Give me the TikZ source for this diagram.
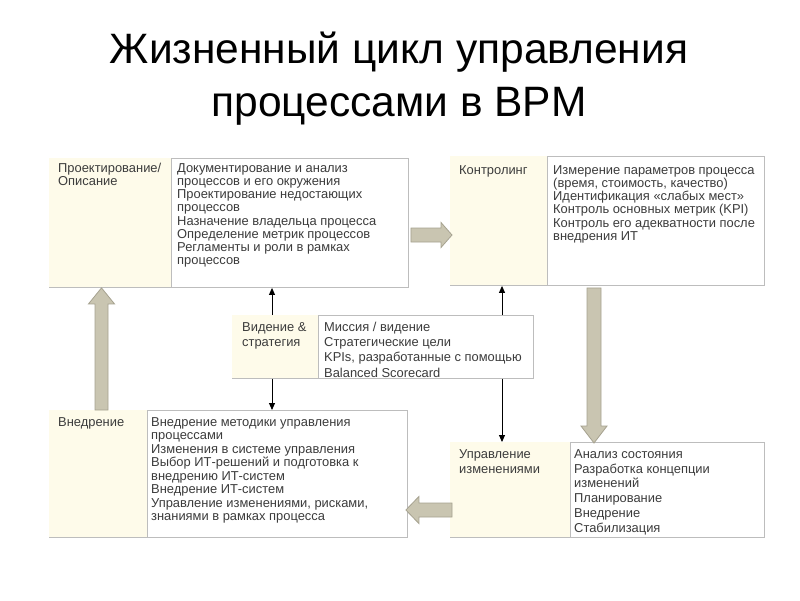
\documentclass[tikz,border=0pt]{standalone}
\usepackage{fontspec}
\setmainfont{Liberation Sans}
\usetikzlibrary{calc,arrows.meta}
\definecolor{boxline}{HTML}{BDBDBD}
\definecolor{cream}{HTML}{FEFBEA}
\definecolor{arrfill}{HTML}{C9C5B1}
\definecolor{arrline}{HTML}{A6A290}
\definecolor{txt}{HTML}{3C3C3C}
\newcommand\lnstrut{\rule{0pt}{10pt}}
\begin{document}
\begin{tikzpicture}[x=1pt,y=-1pt,
  frame/.style={draw=boxline, line width=0.9pt, fill=white, inner sep=0pt, anchor=north west},
  body/.style={anchor=north west, inner sep=0pt, align=left, text=txt, font=\fontsize{12.9}{13.2}\selectfont},
  bodyv/.style={body, font=\fontsize{12.9}{15.3}\selectfont},
  bodyw/.style={body, font=\fontsize{12.9}{13.5}\selectfont},
  bodyu/.style={body, font=\fontsize{12.9}{14.8}\selectfont},
  title/.style={anchor=base, inner sep=0pt, font=\fontsize{42.5}{52}\selectfont},
  blk/.style={draw=arrline, line width=0.8pt, fill=arrfill, line join=miter},
  thinarrow/.style={draw=black, line width=0.9pt, -{Triangle[length=7pt,width=6pt]}}
]
\useasboundingbox (0,0) rectangle (800,600);
\fill[white] (0,0) rectangle (800,600);

% title
\node[title] (t1) at (399,63) {Жизненный цикл управления};
\node[title] (t2) at (399,116) {процессами в BPM};

% frames
\node[frame, minimum width=359pt, minimum height=129pt] (p) at (49,158) {};
\node[frame, minimum width=314pt, minimum height=129pt] (c) at (450,156) {};
\node[frame, minimum width=301pt, minimum height=63pt] (v) at (232,315) {};
\node[frame, minimum width=358pt, minimum height=127pt] (w) at (49,410) {};
\node[frame, minimum width=314pt, minimum height=95pt] (u) at (450,442) {};

% divider positions
\coordinate (dp) at (171,0);
\coordinate (dc) at (547,0);
\coordinate (dv) at (318,0);
\coordinate (dw) at (147,0);
\coordinate (du) at (570,0);

\foreach \b/\d in {p/dp,c/dc,v/dv,w/dw,u/du}{
  \fill[cream] ([shift={(0.45,0.45)}]\b.north west) rectangle ([shift={(0,-0.45)}]\b.south -| \d);
  \draw[boxline, line width=0.9pt] (\b.north -| \d) -- (\b.south -| \d);
}

% texts
\node[body] (p1) at (58,162) {\lnstrut Проектирование/\\Описание};
\node[body] (p2) at (177,162) {\lnstrut Документирование и анализ\\процессов и его окружения\\Проектирование недостающих\\процессов\\Назначение владельца процесса\\Определение метрик процессов\\Регламенты и роли в рамках\\процессов};

\node[body] (c1) at (459,164) {\lnstrut Контролинг};
\node[body] (c2) at (553,164) {\lnstrut Измерение параметров процесса\\(время, стоимость, качество)\\Идентификация «слабых мест»\\Контроль основных метрик (KPI)\\Контроль его адекватности после\\внедрения ИТ};

\node[bodyv] (v1) at (242,321) {\lnstrut Видение \&\\стратегия};
\node[bodyv] (v2) at (324,321) {\lnstrut Миссия / видение\\Стратегические цели\\KPIs, разработанные с помощью\\Balanced Scorecard};

\node[bodyw] (w1) at (58,416) {\lnstrut Внедрение};
\node[bodyw] (w2) at (151,416) {\lnstrut Внедрение методики управления\\процессами\\Изменения в системе управления\\Выбор ИТ-решений и подготовка к\\внедрению ИТ-систем\\Внедрение ИТ-систем\\Управление изменениями, рисками,\\знаниями в рамках процесса};

\node[bodyu] (u1) at (459,448) {\lnstrut Управление\\изменениями};
\node[bodyu] (u2) at (574,448) {\lnstrut Анализ состояния\\Разработка концепции\\изменений\\Планирование\\Внедрение\\Стабилизация};

% thin arrows
\coordinate (xa) at (272,0);
\coordinate (xb) at (502,0);
\draw[thinarrow] (v.north -| xa) -- (p.south -| xa);
\draw[thinarrow] (v.south -| xa) -- (w.north -| xa);
\draw[thinarrow] (v.north -| xb) -- (c.south -| xb);
\draw[thinarrow] (v.south -| xb) -- (u.north -| xb);

% block arrows
\coordinate (ry) at (0,235);
\coordinate (T1) at ($(p.east |- ry)+(2,0)$);
\coordinate (H1) at ($(c.west |- ry)+(2,0)$);
\draw[blk] ($(T1)+(0,-7)$) -- ($(H1)+(-11,-7)$) -- ($(H1)+(-11,-12.5)$) -- (H1) -- ($(H1)+(-11,12.5)$) -- ($(H1)+(-11,7)$) -- ($(T1)+(0,7)$) -- cycle;

\coordinate (ux) at (101.5,0);
\coordinate (T2) at (w.north -| ux);
\coordinate (H2) at (p.south -| ux);
\draw[blk] ($(T2)+(-6.5,0)$) -- ($(H2)+(-6.5,16)$) -- ($(H2)+(-13,16)$) -- (H2) -- ($(H2)+(13,16)$) -- ($(H2)+(6.5,16)$) -- ($(T2)+(6.5,0)$) -- cycle;

\coordinate (dx) at (594,0);
\coordinate (T3) at ($(c.south -| dx)+(0,2)$);
\coordinate (H3) at ($(u.north -| dx)+(0,1)$);
\draw[blk] ($(T3)+(-7,0)$) -- ($(H3)+(-7,-17)$) -- ($(H3)+(-13,-17)$) -- (H3) -- ($(H3)+(13,-17)$) -- ($(H3)+(7,-17)$) -- ($(T3)+(7,0)$) -- cycle;

\coordinate (ly) at (0,510);
\coordinate (T4) at ($(u.west |- ly)+(2,0)$);
\coordinate (H4) at ($(w.east |- ly)+(-2,0)$);
\draw[blk] ($(T4)+(0,-7)$) -- ($(H4)+(13,-7)$) -- ($(H4)+(13,-13.5)$) -- (H4) -- ($(H4)+(13,13.5)$) -- ($(H4)+(13,7)$) -- ($(T4)+(0,7)$) -- cycle;
\end{tikzpicture}
\end{document}
